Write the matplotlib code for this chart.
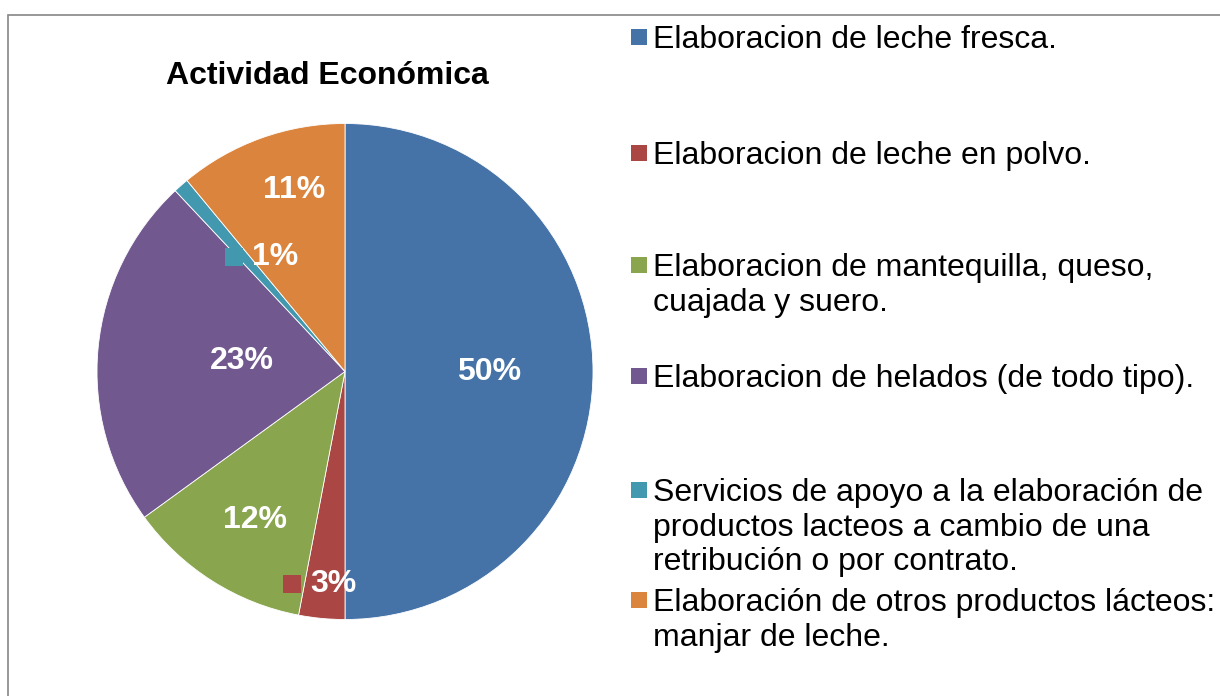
import numpy as np
import matplotlib
matplotlib.use('Agg')
import matplotlib.pyplot as plt
from matplotlib.patches import Rectangle
from matplotlib.transforms import offset_copy

plt.rcParams['font.family'] = ['Liberation Sans', 'DejaVu Sans']

# data
categorias = ['Elaboracion de leche fresca.',
              'Elaboracion de leche en polvo.',
              'Elaboracion de mantequilla, queso,\ncuajada y suero.',
              'Elaboracion de helados (de todo tipo).',
              'Servicios de apoyo a la elaboración de\nproductos lacteos a cambio de una\nretribución o por contrato.',
              'Elaboración de otros productos lácteos:\nmanjar de leche.']
porcentajes = [50, 3, 12, 23, 1, 11]
colores = ['#4572A7', '#AA4643', '#89A54E', '#71588F', '#4198AF', '#DB843D']

W, H = 1220, 696
fig = plt.figure(figsize=(W / 100, H / 100), dpi=100)

def px(x, y):
    return x / W, 1 - y / H

# outer gray frame
fig.patches.append(Rectangle(px(8, 700), (W + 10) / W, (700 - 15) / H, transform=fig.transFigure,
                             fill=False, edgecolor='#868686', linewidth=1.2))

# pie
ax = fig.add_axes([97 / W, (H - 620) / H, 496 / W, 497 / H])
wedges, _ = ax.pie(porcentajes, colors=colores, startangle=90, counterclock=False,
                   radius=1, wedgeprops=dict(edgecolor='white', linewidth=0.6))
ax.set_xlim(-1, 1)
ax.set_ylim(-1, 1)
ax.axis('off')

# data labels (radius and small angle nudge like Excel placement)
label_r = [0.58, 0.86, 0.70, 0.42, 0.54, 0.76]
label_nudge = [0, 2.2, 1.3, -0.6, -10, -4]
con_clave = [False, True, False, False, True, False]
for w, p, r, nd, k, c in zip(wedges, porcentajes, label_r, label_nudge, con_clave, colores):
    ang = np.deg2rad((w.theta1 + w.theta2) / 2 + nd)
    x, y = r * np.cos(ang), r * np.sin(ang)
    ax.text(x, y, f'{p}%', color='white', fontsize=23, fontweight='bold',
            ha='center', va='center')
    if k:
        tr = offset_copy(ax.transData, fig=fig, x=-41, y=0, units='dots')
        ax.plot([x], [y], marker='s', markersize=13, color=c, transform=tr,
                markeredgewidth=0)

# title
fig.text(*px(327, 76), 'Actividad Económica', fontsize=23, fontweight='bold',
         ha='center', va='center')

# legend drawn by hand
ley_y = [37, 153, 265, 376, 490, 600]
for cat, c, y in zip(categorias, colores, ley_y):
    fig.patches.append(Rectangle(px(631, y + 8), 16 / W, 16 / H, transform=fig.transFigure,
                                 facecolor=c, edgecolor='none'))
    fig.text(*px(653, y - 12), cat, fontsize=23, ha='left', va='top',
             linespacing=1.2)

fig.savefig('out.png', dpi=100)
